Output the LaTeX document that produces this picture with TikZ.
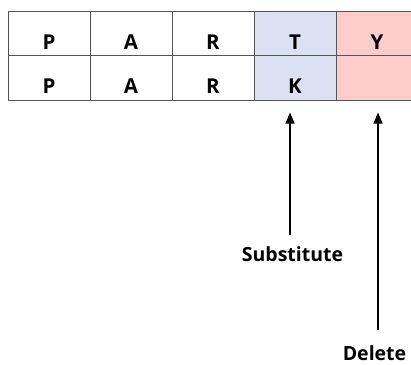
\documentclass[tikz,border=0pt]{standalone}
\usepackage{fontspec}
\setmainfont{Open Sans}
\usetikzlibrary{arrows.meta,calc}
\definecolor{subblue}{HTML}{D9E1F2}
\definecolor{delpink}{HTML}{FFCCCC}
\definecolor{gridgray}{HTML}{555555}
\tikzset{
  cell/.style={draw=gridgray, line width=0.9pt, minimum width=82pt, minimum height=44.5pt, inner sep=0pt, outer sep=0pt},
  letter/.style={font=\bfseries\fontsize{20.5}{20.5}\selectfont, anchor=base, inner sep=0pt},
  caption/.style={font=\bfseries\fontsize{19.5}{19.5}\selectfont, anchor=base, inner sep=0pt},
  pointer/.style={line width=1.3pt, -{Triangle[width=9pt,length=11pt]}}
}
\begin{document}
\begin{tikzpicture}[x=1pt,y=-1pt]
\useasboundingbox (0,0) rectangle (411,364);
% two rows of five cells
\foreach \r/\yc in {1/33.25,2/77.75}{
  \node[cell] (c\r1) at (49,\yc) {};
  \node[cell] (c\r2) at (131,\yc) {};
  \node[cell] (c\r3) at (213,\yc) {};
  \node[cell, fill=subblue] (c\r4) at (295,\yc) {};
  \node[cell, fill=delpink] (c\r5) at (377,\yc) {};
}
% letters sit near the bottom of each cell
\foreach \r/\a/\b/\c/\d/\e in {1/P/A/R/T/Y,2/P/A/R/K/}{
  \node[letter] (l\r1) at ($(c\r1.south)+(0,-6.5)$) {\a};
  \node[letter] (l\r2) at ($(c\r2.south)+(0,-6.5)$) {\b};
  \node[letter] (l\r3) at ($(c\r3.south)+(0,-6.5)$) {\c};
  \node[letter] (l\r4) at ($(c\r4.south)+(0,-6.5)$) {\d};
  \node[letter] (l\r5) at ($(c\r5.south)+(0,-6.5)$) {\e};
}
% operation labels and their pointers
\node[caption] (sub) at (292.5,261) {Substitute};
\node[caption] (del) at (374.5,360) {Delete};
\coordinate (subfoot) at (290,235);
\coordinate (subtip) at (290,112.5);
\coordinate (delfoot) at (378,330);
\coordinate (deltip) at (378,112.5);
\draw[pointer] (subfoot) -- (subtip);
\draw[pointer] (delfoot) -- (deltip);
\end{tikzpicture}
\end{document}
